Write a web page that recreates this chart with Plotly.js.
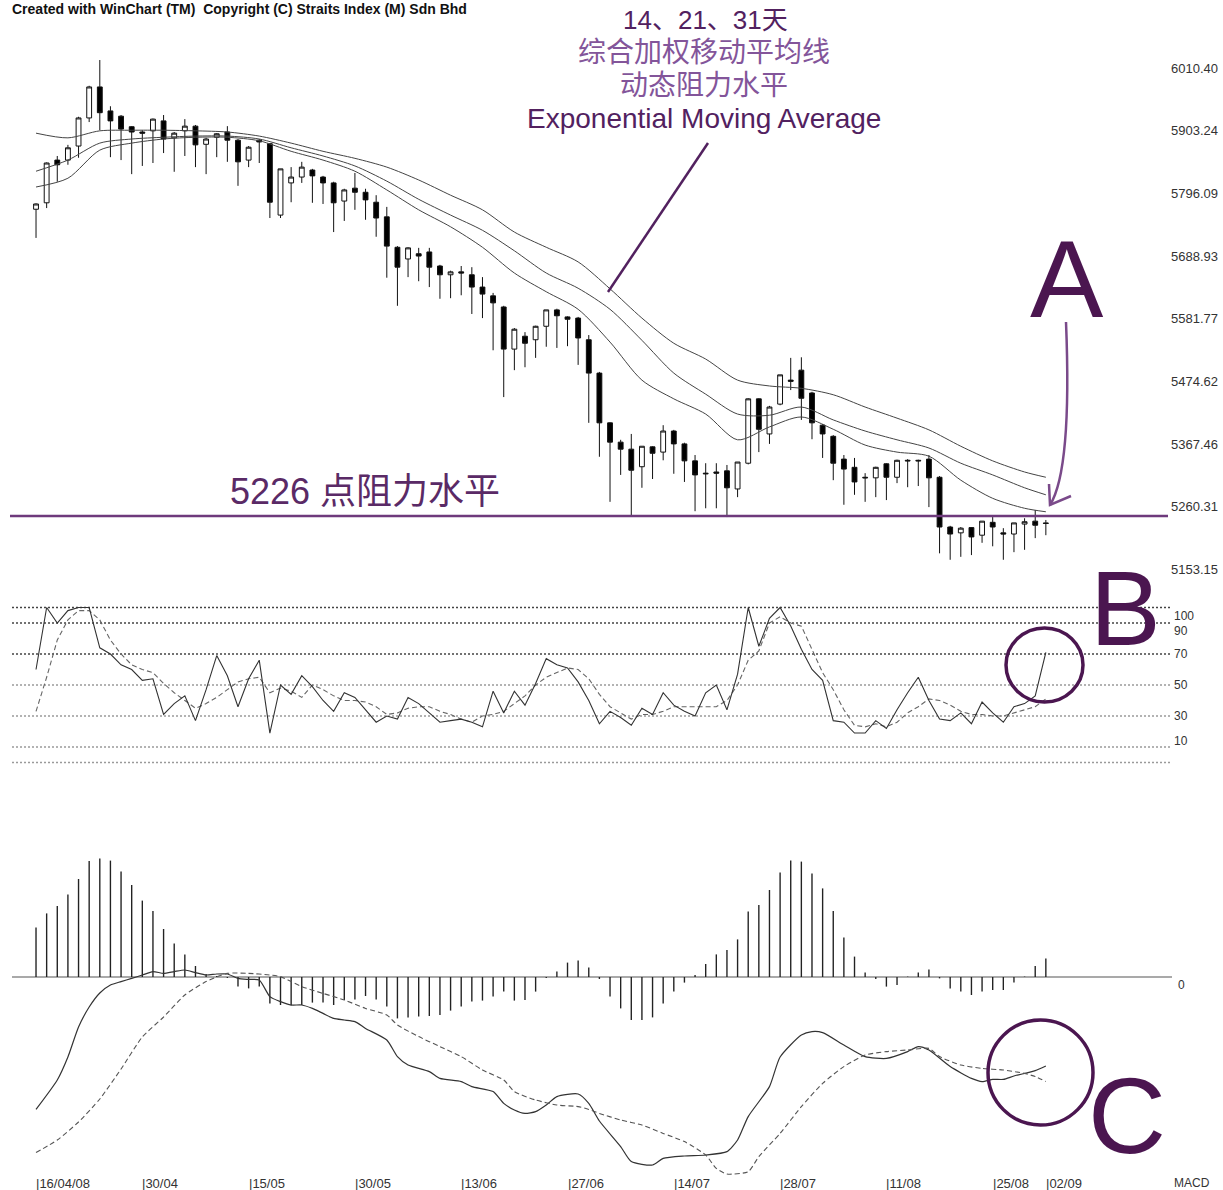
<!DOCTYPE html>
<html><head><meta charset="utf-8">
<script src="https://cdn.plot.ly/plotly-3.0.1.min.js"></script>
<style>html,body{margin:0;padding:0;background:#fff;}#chart{width:1223px;height:1190px;}</style>
</head><body><div id="chart"></div>
<script>
// ---------- DATA ----------
const OPEN  = [5769,5780,5853,5853,5877,5925,5978,5937,5928,5910,5901,5903,5920,5891,5903,5911,5880,5892,5901,5887,
               5853,5887,5881,5759,5814,5824,5836,5824,5814,5783,5805,5798,5781,5756,5704,5684,5693,5696,5672,5657,
               5662,5657,5636,5621,5602,5530,5552,5546,5569,5597,5585,5583,5546,5489,5404,5371,5359,5329,5363,5354,
               5390,5368,5339,5318,5320,5322,5291,5335,5445,5385,5436,5477,5494,5455,5400,5381,5342,5328,5311,5310,
               5334,5311,5340,5340,5342,5311,5226,5216,5225,5212,5234,5216,5214,5231,5236,5233];
const HIGH  = [5779,5849,5860,5879,5927,5980,6024,5945,5930,5911,5904,5924,5930,5901,5923,5913,5891,5899,5911,5889,
               5877,5889,5882,5838,5841,5850,5838,5826,5816,5804,5831,5804,5793,5773,5706,5704,5703,5703,5674,5664,
               5672,5670,5653,5626,5604,5566,5559,5570,5597,5599,5586,5585,5554,5491,5405,5375,5385,5364,5364,5400,
               5392,5370,5349,5335,5335,5332,5337,5446,5446,5433,5486,5515,5516,5457,5402,5383,5349,5344,5318,5329,
               5335,5341,5342,5341,5349,5313,5228,5226,5226,5236,5243,5224,5233,5241,5255,5238];
const LOW   = [5720,5771,5816,5845,5857,5918,5904,5858,5853,5829,5843,5848,5865,5833,5860,5841,5829,5858,5850,5809,
               5841,5848,5754,5754,5781,5814,5780,5778,5730,5749,5768,5751,5722,5652,5604,5653,5646,5636,5616,5617,
               5622,5590,5583,5528,5448,5494,5499,5515,5534,5532,5535,5503,5404,5346,5269,5315,5245,5293,5308,5340,
               5317,5303,5253,5258,5258,5243,5277,5333,5354,5368,5434,5460,5409,5376,5344,5306,5264,5281,5269,5277,
               5272,5301,5294,5296,5260,5181,5170,5175,5178,5199,5193,5170,5183,5187,5207,5212];
const CLOSE = [5778,5848,5845,5874,5925,5978,5934,5920,5906,5901,5899,5923,5889,5899,5911,5879,5889,5898,5887,5850,
               5875,5884,5781,5838,5824,5841,5826,5814,5780,5802,5798,5785,5754,5706,5670,5703,5689,5670,5657,5662,
               5660,5636,5624,5609,5530,5564,5540,5569,5597,5587,5581,5549,5489,5404,5371,5359,5323,5364,5352,5390,
               5368,5339,5315,5317,5318,5293,5337,5445,5393,5431,5486,5475,5446,5404,5385,5335,5325,5303,5310,5328,
               5311,5340,5339,5339,5310,5226,5214,5224,5209,5236,5226,5214,5233,5235,5229,5232];

// exponential moving averages (14 / 21 / 31 day), read at sampled days
const EMA_IDX = [0,3,6,9,12,15,18,21,24,27,30,33,36,39,42,45,48,51,54,57,60,63,66,69,72,75,78,81,84,87,90,93,95];
const EMA31 = [5899,5891,5903,5904,5904,5903,5901,5894,5882,5868,5856,5841,5819,5793,5768,5730,5704,5679,5633,5583,
               5540,5513,5477,5467,5463,5452,5431,5412,5392,5364,5339,5320,5311];
const EMA21 = [5834,5853,5882,5889,5892,5894,5894,5889,5874,5860,5843,5817,5786,5759,5733,5698,5660,5634,5598,5545,
               5489,5453,5419,5417,5431,5409,5390,5375,5361,5335,5315,5293,5281];
const EMA14 = [5807,5822,5870,5882,5889,5892,5892,5886,5868,5853,5834,5802,5768,5739,5704,5660,5628,5598,5542,5477,
               5445,5419,5375,5397,5414,5393,5366,5354,5347,5306,5275,5258,5252];
const SUPPORT = 5245;
const Y_TICKS = [6010.40,5903.24,5796.09,5688.93,5581.77,5474.62,5367.46,5260.31,5153.15];

// stochastic %K (solid) and %D (dashed)
const STOCH_K = [60,100,90,98,100,100,74,70,63,60,53,54,31,38,43,27,47,69,56,36,
                 54,66,19,50,44,56,49,40,33,45,42,34,26,30,28,42,38,32,26,27,
                 28,26,23,46,32,46,37,51,67,63,61,52,40,25,33,29,24,35,31,45,
                 37,33,30,45,50,34,57,100,75,93,100,88,73,60,53,27,26,19,19,27,
                 22,34,45,55,40,28,27,32,25,39,32,26,36,38,43,71];
const STOCH_D = [33,55,79,92,98,98,92,79,70,63,60,58,51,45,40,35,38,42,47,52,
                 54,55,45,48,46,42,50,47,43,40,40,39,36,31,32,35,36,36,33,31,
                 28,26,30,31,33,38,43,50,55,58,61,60,54,44,36,32,28,31,31,33,
                 36,36,36,36,36,40,50,66,72,90,94,90,88,73,58,47,34,24,23,25,
                 23,26,32,36,41,40,37,33,31,31,30,30,32,34,36,41];
const STOCH_LEVELS = [100,90,70,50,30,10,0];
const STOCH_LABELS = ['100','90','70','50','30','10'];

// MACD histogram, MACD line and signal line
const MACD_HIST = [24.8,31.8,35.5,41.3,49,58,59.3,58.2,52.7,46,38.2,33,24,16.8,11.3,5.5,1.5,0.5,-0.5,-4.8,
                   -5.7,-4.8,-13.2,-14,-14.3,-14,-12.8,-12.8,-14,-11.5,-11.2,-9.5,-11.2,-14.8,-20.7,-20.2,-19.8,-19.5,-19,-16.8,
                   -14.8,-12.3,-11.8,-9.8,-7.3,-11.8,-11.5,-7.3,-0.5,2.7,7.2,8.2,4.7,-1,-9.8,-15.7,-21.5,-21.5,-20.2,-13.2,
                   -7.3,-2.8,1,6.5,11.3,13.5,18.8,32.7,36,43.5,52.3,58.2,57.7,51.8,44.3,33,19.7,10.2,2.2,-1,
                   -4.8,-4,0.2,2.2,3.8,-0.7,-5.7,-7.3,-9,-7.3,-6.5,-6.5,-2.8,0.2,5.5,9.3];
const MACD_IDX  = [0,2,3,4,5,6,7,8,9,10,11,12,13,14,15,16,17,18,19,20,21,22,23,24,25,26,27,28,29,30,31,33,34,35,37,38,40,41,43,44,45,46,47,48,49,51,52,53,55,56,58,59,61,63,65,66,67,69,70,72,73,74,76,78,80,82,83,84,86,88,89,90,91,92,94,95];
const MACD_LINE = [-66.2,-51.5,-40,-25,-15,-8,-4,-2.3,-0.7,1,2.7,1.8,2.7,3.5,2.2,1,1.5,1.5,-0.7,-1.2,-1.5,-9.8,-12.3,-14,-14,-15.7,-18.2,-20.7,-21.5,-22.3,-25.7,-31.5,-39.8,-44,-47.3,-50.7,-52.3,-54.8,-57.3,-63.2,-66.5,-68.2,-67.3,-64,-59.8,-58.5,-63.2,-72,-84.8,-92.3,-94,-90.7,-89.5,-89,-87.3,-81.5,-69.8,-54.8,-40,-29,-27.3,-27.8,-34,-39.8,-40.7,-37.3,-34.8,-36.5,-44.8,-50.7,-52.3,-51.2,-51.2,-49.5,-46.8,-44.5];
const SIG_IDX   = [0,2,4,6,8,10,12,14,16,18,20,22,23,24,25,27,29,31,33,34,36,38,40,42,44,45,47,49,51,52,53,55,57,59,61,63,64,65,67,68,70,72,74,76,78,80,82,84,85,87,89,91,93,94,95];
const SIG_LINE  = [-87.8,-81.5,-72.5,-61,-46,-30,-20,-9,-2.3,1.8,1.8,1,0.2,-2.3,-4.8,-8.2,-11.5,-15.7,-19,-24,-29.8,-34.8,-39.8,-46.5,-51.5,-57.3,-61.5,-64,-64.8,-66.2,-68.2,-71.5,-74,-78.2,-82.3,-89,-95.7,-98.5,-97.3,-89.8,-78.2,-64.8,-53.2,-44.8,-39,-37.3,-36.5,-35.7,-39.8,-44,-45.7,-46.5,-48.2,-49.8,-52.3];

// date tick labels (trading-day index of each label)
const DATE_IDX    = [0,10,20,30,40,50,60,70,80,90,95];
const DATE_LABELS = ['16/04/08','30/04','15/05','30/05','13/06','27/06','14/07','28/07','11/08','25/08','02/09'];

// ---------- LAYOUT HELPERS ----------
const W = 1223, H = 1190, ML = 12, MR = 53;
const PW = W - ML - MR;
const px = x => (x - ML) / PW;
const py = y => 1 - y / H;
const IDX = OPEN.map((_, i) => i);
const FONT = 'Liberation Sans, Arial, sans-serif';
const CJK = 'Liberation Sans, Noto Sans CJK SC, sans-serif';
const PURPLE = '#52215f', LPURPLE = '#83559a', DPURPLE = '#4b1650';

const traces = [];
traces.push({
  type: 'candlestick', x: IDX, open: OPEN, high: HIGH, low: LOW, close: CLOSE,
  xaxis: 'x', yaxis: 'y', whiskerwidth: 0,
  increasing: {line: {color: '#111', width: 1}, fillcolor: '#ffffff'},
  decreasing: {line: {color: '#111', width: 1}, fillcolor: '#000000'},
  hoverinfo: 'skip'
});
[EMA14, EMA21, EMA31].forEach(s => traces.push({
  type: 'scatter', mode: 'lines', x: EMA_IDX, y: s, xaxis: 'x', yaxis: 'y',
  line: {color: '#444', width: 1, shape: 'spline', smoothing: 0.8}, hoverinfo: 'skip'
}));
traces.push({type: 'scatter', mode: 'lines', x: IDX, y: STOCH_D, xaxis: 'x', yaxis: 'y2',
  line: {color: '#666', width: 1.1, dash: '5px,3px'}, hoverinfo: 'skip'});
traces.push({type: 'scatter', mode: 'lines', x: IDX, y: STOCH_K, xaxis: 'x', yaxis: 'y2',
  line: {color: '#333', width: 1.1}, hoverinfo: 'skip'});
traces.push({type: 'bar', x: IDX, y: MACD_HIST, xaxis: 'x', yaxis: 'y3', width: 0.13,
  marker: {color: '#222', line: {width: 0}}, hoverinfo: 'skip'});
traces.push({type: 'scatter', mode: 'lines', x: MACD_IDX, y: MACD_LINE, xaxis: 'x', yaxis: 'y3',
  line: {color: '#333', width: 1.2, shape: 'spline', smoothing: 0.6}, hoverinfo: 'skip'});
traces.push({type: 'scatter', mode: 'lines', x: SIG_IDX, y: SIG_LINE, xaxis: 'x', yaxis: 'y3',
  line: {color: '#555', width: 1.1, dash: '5px,3px', shape: 'spline', smoothing: 0.6}, hoverinfo: 'skip'});

const shapes = [];
STOCH_LEVELS.forEach(v => shapes.push({
  type: 'line', xref: 'paper', yref: 'y2', x0: 0, x1: 1, y0: v, y1: v, layer: 'below',
  line: {color: v >= 70 ? '#444' : '#9a9a9a', width: 1.5, dash: '2px,2px'}
}));
shapes.push({type: 'line', xref: 'paper', yref: 'y3', x0: 0, x1: px(1172), y0: 0, y1: 0, layer: 'below',
  line: {color: '#8c8c8c', width: 1.5}});
shapes.push({type: 'line', xref: 'paper', yref: 'y', x0: px(10), x1: px(1168), y0: SUPPORT, y1: SUPPORT,
  line: {color: '#6e3a7c', width: 2.5}});
// annotation arrow / marks
shapes.push({type: 'line', xref: 'paper', yref: 'paper', x0: px(708), y0: py(143), x1: px(608), y1: py(292),
  line: {color: PURPLE, width: 2.5}});
shapes.push({type: 'path', xref: 'paper', yref: 'paper',
  path: `M ${px(1066)},${py(322)} Q ${px(1072)},${py(470)} ${px(1050)},${py(505)}`,
  line: {color: '#7a4a8a', width: 2.5}});
shapes.push({type: 'path', xref: 'paper', yref: 'paper',
  path: `M ${px(1049)},${py(484)} L ${px(1050)},${py(505)} L ${px(1071)},${py(496)}`,
  line: {color: '#7a4a8a', width: 2.5}});
shapes.push({type: 'circle', xref: 'paper', yref: 'paper', x0: px(1006), x1: px(1083), y0: py(702), y1: py(628),
  line: {color: DPURPLE, width: 3.5}});
shapes.push({type: 'circle', xref: 'paper', yref: 'paper', x0: px(988), x1: px(1093), y0: py(1125), y1: py(1020),
  line: {color: DPURPLE, width: 3.5}});

const ann = [];
const txt = (x, y, text, size, color, opts) => ann.push(Object.assign({
  xref: 'paper', yref: 'paper', x: px(x), y: py(y), text: text, showarrow: false,
  xanchor: 'center', yanchor: 'middle', font: {family: CJK, size: size, color: color}
}, opts || {}));
txt(10, 9, '<b>Created with WinChart (TM)  Copyright (C) Straits Index (M) Sdn Bhd</b>', 14, '#111',
  {xanchor: 'left', font: {family: FONT, size: 14, color: '#111'}});
txt(705, 20, '14、21、31天', 26, PURPLE);
txt(704, 53, '综合加权移动平均线', 28, LPURPLE);
txt(704, 86, '动态阻力水平', 28, LPURPLE);
txt(704, 119, 'Exponential Moving Average', 28, PURPLE, {font: {family: FONT, size: 28, color: PURPLE}});
txt(228, 492, '5226 点阻力水平', 36, '#5a2a66', {xanchor: 'left'});
txt(1067, 278, 'A', 110, DPURPLE, {font: {family: FONT, size: 110, color: DPURPLE}});
txt(1125, 608, 'B', 106, DPURPLE, {font: {family: FONT, size: 106, color: DPURPLE}});
txt(1127, 1115, 'C', 108, DPURPLE, {font: {family: FONT, size: 108, color: DPURPLE}});
// stochastic level labels
const STOCH_SHIFT = [-8, -8, 0, 0, 0, 6];
STOCH_LABELS.forEach((t, k) => ann.push({
  xref: 'paper', yref: 'y2', x: 1, y: STOCH_LEVELS[k], yshift: STOCH_SHIFT[k], xshift: 2,
  xanchor: 'left', yanchor: 'middle', text: t, showarrow: false,
  font: {family: FONT, size: 12, color: '#333'}
}));
ann.push({xref: 'paper', yref: 'y3', x: px(1176), y: 0, yshift: -8, xanchor: 'left', yanchor: 'middle',
  text: '0', showarrow: false, font: {family: FONT, size: 12, color: '#333'}});
DATE_LABELS.forEach((t, k) => ann.push({
  xref: 'x', yref: 'paper', x: DATE_IDX[k], y: py(1183), xshift: -2, xanchor: 'left', yanchor: 'middle',
  text: '|' + t, showarrow: false, font: {family: FONT, size: 13, color: '#333'}
}));
ann.push({xref: 'paper', yref: 'paper', x: px(1172), y: py(1183), xanchor: 'left', yanchor: 'middle',
  text: 'MACD', showarrow: false, font: {family: FONT, size: 12, color: '#333'}});

const layout = {
  width: W, height: H, margin: {l: ML, r: MR, t: 0, b: 0},
  paper_bgcolor: '#ffffff', plot_bgcolor: '#ffffff', showlegend: false, boxgap: 0.35,
  xaxis: {range: [-2.26, 106.68], showgrid: false, zeroline: false, showline: false, showticklabels: false,
          ticks: '', rangeslider: {visible: false}, anchor: 'y3', fixedrange: true},
  yaxis: {domain: [py(572), py(30)], range: [5149.1, 6075.3], side: 'right', anchor: 'x',
          tickvals: Y_TICKS, ticktext: Y_TICKS.map(v => v.toFixed(2)), ticks: '',
          showgrid: false, zeroline: false, showline: false,
          tickfont: {family: FONT, size: 13, color: '#333'}},
  yaxis2: {domain: [py(765.6), py(601.3)], range: [-2, 104], anchor: 'x', showgrid: false,
           zeroline: false, showticklabels: false, showline: false},
  yaxis3: {domain: [py(1178), py(850)], range: [-100.5, 63.5], anchor: 'x', showgrid: false,
           zeroline: false, showticklabels: false, showline: false},
  shapes: shapes, annotations: ann
};
Plotly.newPlot('chart', traces, layout, {staticPlot: true, displayModeBar: false});
</script>
</body></html>
